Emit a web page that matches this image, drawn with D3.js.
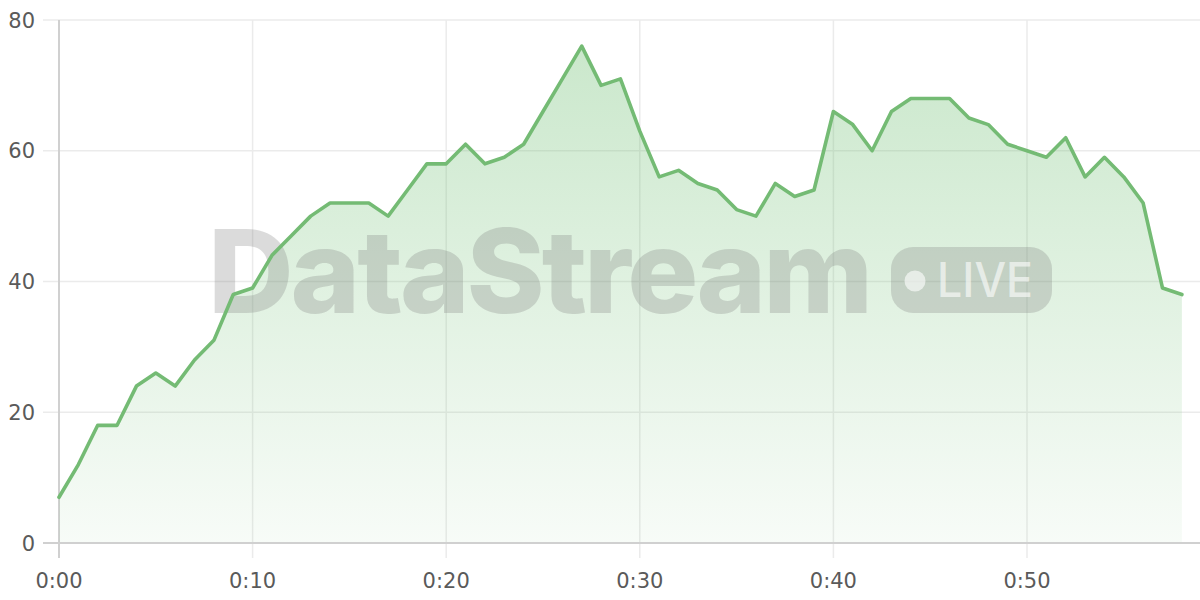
<!DOCTYPE html>
<html>
<head>
<meta charset="utf-8">
<script src="https://cdn.jsdelivr.net/npm/d3@7"></script>
<style>
  html, body { margin: 0; padding: 0; background: #fff; }
  svg { display: block; }
</style>
</head>
<body>
<svg id="chart" width="1200" height="600"></svg>
<script>
const minutes = d3.range(0, 59);
const values = [7,12,18,18,24,26,24,28,31,38,39,44,47,50,52,52,52,50,54,58,58,61,58,59,61,66,71,76,70,71,63,56,57,55,54,51,50,55,53,54,66,64,60,66,68,68,68,65,64,61,60,59,62,56,59,56,52,39,38];
const xTicks = [0, 10, 20, 30, 40, 50];
const yTicks = [0, 20, 40, 60, 80];
const watermarkText = "DataStream";
const badgeText = "LIVE";

const data = minutes.map((m, i) => ({ m, v: values[i] }));

const svg = d3.select("#chart");
const margin = { left: 59, right: 0, top: 20, bottom: 57 };
const W = 1200, H = 600;

const x = d3.scaleLinear().domain([0, 59]).range([margin.left, margin.left + 59 * 19.36]);
const y = d3.scaleLinear().domain([0, 80]).range([H - margin.bottom, margin.top]);

const defs = svg.append("defs");
const grad = defs.append("linearGradient").attr("id", "fillGrad")
  .attr("gradientUnits", "userSpaceOnUse")
  .attr("x1", 0).attr("x2", 0).attr("y1", y(80)).attr("y2", y(0));
grad.append("stop").attr("offset", "0%").attr("stop-color", "#66bb6a").attr("stop-opacity", 0.36);
grad.append("stop").attr("offset", "100%").attr("stop-color", "#66bb6a").attr("stop-opacity", 0.05);

const font = "Inter, 'Noto Sans', sans-serif";
const axisFont = "'DejaVu Sans', Verdana, sans-serif";

// horizontal grid
svg.append("g").selectAll("line").data(yTicks).join("line")
  .attr("x1", 43).attr("x2", W)
  .attr("y1", d => y(d)).attr("y2", d => y(d))
  .attr("stroke", d => d === 0 ? "#d0d0d0" : "#ebebeb")
  .attr("stroke-width", d => d === 0 ? 2 : 1.5);

// vertical grid
svg.append("g").selectAll("line").data(xTicks).join("line")
  .attr("x1", d => x(d)).attr("x2", d => x(d))
  .attr("y1", y(80)).attr("y2", y(0) + 15)
  .attr("stroke", d => d === 0 ? "#d0d0d0" : "#ebebeb")
  .attr("stroke-width", d => d === 0 ? 2 : 1.5);

// area
const area = d3.area().x(d => x(d.m)).y0(y(0)).y1(d => y(d.v));
svg.append("path").datum(data).attr("d", area).attr("fill", "url(#fillGrad)");

// redraw axis line at zero above area
svg.append("line").attr("x1", 43).attr("x2", W).attr("y1", y(0)).attr("y2", y(0))
  .attr("stroke", "#d0d0d0").attr("stroke-width", 2);

// watermark
const wm = svg.append("g").attr("class", "watermark");
const wt = wm.append("text")
  .attr("x", 208).attr("y", 313)
  .attr("font-family", font).attr("font-weight", 800).attr("font-size", 116)
  .attr("letter-spacing", -3)
  .attr("fill", "#7a7a7a").attr("fill-opacity", 0.27)
  .text(watermarkText);
const wlen = wt.node().getComputedTextLength();
if (wlen > 0) wt.attr("textLength", 662).attr("lengthAdjust", "spacingAndGlyphs");

wm.append("rect").attr("x", 891).attr("y", 247).attr("width", 161).attr("height", 66)
  .attr("rx", 22).attr("fill", "#7a7a7a").attr("fill-opacity", 0.27);
wm.append("circle").attr("cx", 915).attr("cy", 281).attr("r", 10.5)
  .attr("fill", "#fff").attr("fill-opacity", 0.6);
wm.append("text").attr("x", 937).attr("y", 297)
  .attr("font-family", font).attr("font-weight", 500).attr("font-size", 48)
  .attr("textLength", 96).attr("lengthAdjust", "spacingAndGlyphs")
  .attr("fill", "#fff").attr("fill-opacity", 0.6)
  .text(badgeText);

// line
const line = d3.line().x(d => x(d.m)).y(d => y(d.v));
svg.append("path").datum(data).attr("d", line)
  .attr("fill", "none").attr("stroke", "#74bb74").attr("stroke-width", 3.6)
  .attr("stroke-linejoin", "round").attr("stroke-linecap", "round");

// axes labels
svg.append("g").selectAll("text").data(yTicks).join("text")
  .attr("x", 35).attr("y", d => y(d)).attr("dy", "0.36em")
  .attr("text-anchor", "end")
  .attr("font-family", axisFont).attr("font-size", 21).attr("fill", "#5a5a5a")
  .text(d => d);

svg.append("g").selectAll("text").data(xTicks).join("text")
  .attr("x", d => x(d)).attr("y", 588)
  .attr("text-anchor", "middle")
  .attr("font-family", axisFont).attr("font-size", 21).attr("fill", "#5a5a5a")
  .text(d => "0:" + String(d).padStart(2, "0"));
</script>
</body>
</html>
